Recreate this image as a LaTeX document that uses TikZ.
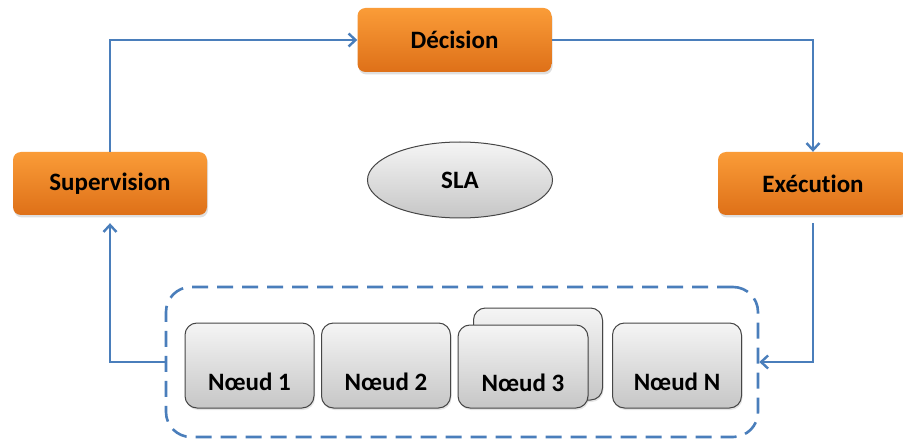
\documentclass[tikz,border=0pt]{standalone}
\usepackage{fontspec}
\setmainfont{Carlito}[Ligatures=NoCommon]
\usetikzlibrary{arrows.meta,shapes.geometric,shadows}
\definecolor{arrowblue}{RGB}{74,126,187}
\definecolor{orangetop}{RGB}{250,156,56}
\definecolor{orangebot}{RGB}{222,112,24}
\definecolor{graytop}{RGB}{245,245,245}
\definecolor{graybot}{RGB}{198,198,198}
\definecolor{grayborder}{RGB}{70,70,70}
\tikzset{
  x=1pt, y=-1pt,
  txt/.style={font=\fontsize{25}{29}\selectfont\bfseries, text=black},
  orangebox/.style={txt, rectangle, rounded corners=8pt, top color=orangetop, bottom color=orangebot,
     draw=none, drop shadow={shadow xshift=1pt, shadow yshift=-2.5pt, opacity=0.25}},
  graybox/.style={rectangle, rounded corners=12pt, top color=graytop, bottom color=graybot,
     draw=grayborder, line width=1pt, minimum width=129pt, minimum height=85pt,
     drop shadow={shadow xshift=1pt, shadow yshift=-2pt, opacity=0.2}},
  grayellipse/.style={txt, ellipse, top color=graytop, bottom color=graybot,
     draw=grayborder, line width=1pt},
  arr/.style={draw=arrowblue, line width=2.4pt, -{Straight Barb[length=7pt,width=13pt]}},
  container/.style={rectangle, rounded corners=25pt, draw=arrowblue, line width=2.6pt,
     dash pattern=on 16pt off 9pt},
}
\begin{document}
\begin{tikzpicture}
\clip (0,0) rectangle (903,441);
\fill[white] (0,0) rectangle (903,441);
% container
\node[container, minimum width=592pt, minimum height=150pt] (cont) at (462,362) {};
% orange boxes
\node[orangebox, minimum width=194pt, minimum height=64pt] (dec) at (454.5,40) {Décision};
\node[orangebox, minimum width=194pt, minimum height=63pt] (sup) at (110,183.5) {Supervision};
\node[orangebox, minimum width=190pt, minimum height=63pt] (exe) at (813,183.5) {Exécution};
% ellipse
\node[grayellipse, minimum width=185pt, minimum height=76pt] (sla) at (460,180) {SLA};
% nodes
\node[graybox] (n1) at (249.5,365.5) {};
\node[txt] (n1t) at ([yshift=-16pt]n1.center) {Nœud 1};
\node[graybox] (n2) at (386,365.5) {};
\node[txt] (n2t) at ([yshift=-16pt]n2.center) {Nœud 2};
\node[graybox, minimum height=92pt] (n3b) at (538,354) {};
\node[graybox, minimum width=130pt, minimum height=83pt] (n3) at (523,366.5) {};
\node[txt] (n3t) at ([yshift=-16pt]n3.center) {Nœud 3};
\node[graybox] (nN) at (677,365.5) {};
\node[txt] (nNt) at ([yshift=-16pt]nN.center) {Nœud N};
% connectors
\draw[arr] (sup.north) |- (dec.west);
\draw[arr] (dec.east) -| (exe.north);
\draw[arr] ([yshift=-8pt]exe.south) |- (cont.east);
\draw[arr] (cont.west) -| ([yshift=-8pt]sup.south);
\end{tikzpicture}
\end{document}
